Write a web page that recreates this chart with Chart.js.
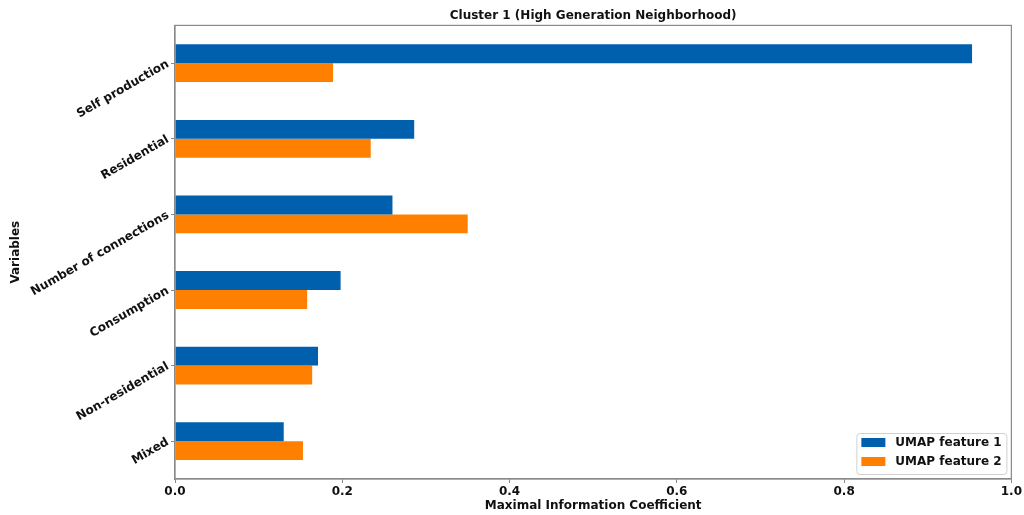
<!DOCTYPE html>
<html>
<head>
<meta charset="utf-8">
<script src="https://cdn.jsdelivr.net/npm/chart.js@4/dist/chart.umd.min.js"></script>
<style>
  html, body { margin: 0; padding: 0; background: #fff; }
  #wrap { width: 1024px; height: 515px; }
</style>
</head>
<body>
<div id="wrap"><canvas id="c" width="1024" height="515"></canvas></div>
<script>
const categories = ['Self production', 'Residential', 'Number of connections', 'Consumption', 'Non-residential', 'Mixed'];
const umapFeature1 = [0.953, 0.286, 0.260, 0.198, 0.171, 0.130];
const umapFeature2 = [0.189, 0.234, 0.350, 0.158, 0.164, 0.153];
const seriesNames = ['UMAP feature 1', 'UMAP feature 2'];
const xTicks = [0.0, 0.2, 0.4, 0.6, 0.8, 1.0];

const FONT = '"DejaVu Sans", sans-serif';
const BLUE = '#0060ad';
const ORANGE = '#ff8000';
const AXIS = '#8a8a8a';

const framePlugin = {
  id: 'frame',
  afterDatasetsDraw(chart) {
    const {ctx, chartArea: a} = chart;
    ctx.save();
    ctx.strokeStyle = AXIS;
    ctx.lineWidth = 1.2;
    ctx.strokeRect(a.left, a.top, a.right - a.left, a.bottom - a.top);
    ctx.restore();
  }
};

const legendPlugin = {
  id: 'innerLegend',
  afterDraw(chart) {
    const {ctx, chartArea: a} = chart;
    const w = 150, h = 41;
    const x = a.right - 5 - w, y = a.bottom - 5 - h;
    ctx.save();
    ctx.fillStyle = 'rgba(255,255,255,0.85)';
    ctx.strokeStyle = '#d0d0d0';
    ctx.lineWidth = 1;
    ctx.beginPath();
    ctx.roundRect(x + 0.5, y + 0.5, w, h, 3);
    ctx.fill();
    ctx.stroke();
    ctx.font = 'bold 12px ' + FONT;
    ctx.textBaseline = 'middle';
    ctx.textAlign = 'left';
    chart.data.datasets.forEach((ds, i) => {
      const ry = y + 5 + i * 19;
      ctx.fillStyle = ds.backgroundColor;
      ctx.fillRect(x + 5, ry, 24, 9);
      ctx.fillStyle = '#111';
      ctx.fillText(ds.label, x + 39, ry + 5);
    });
    ctx.restore();
  }
};

new Chart(document.getElementById('c'), {
  type: 'bar',
  data: {
    labels: categories,
    datasets: [
      { label: seriesNames[0], data: umapFeature1, backgroundColor: BLUE, borderWidth: 0,
        categoryPercentage: 0.5, barPercentage: 1.0 },
      { label: seriesNames[1], data: umapFeature2, backgroundColor: ORANGE, borderWidth: 0,
        categoryPercentage: 0.5, barPercentage: 1.0 }
    ]
  },
  options: {
    indexAxis: 'y',
    responsive: false,
    animation: false,
    layout: { padding: { left: 0, right: 11, top: 0, bottom: 0 } },
    plugins: {
      legend: { display: false },
      tooltip: { enabled: false },
      title: {
        display: true,
        fullSize: false,
        text: 'Cluster 1 (High Generation Neighborhood)',
        color: '#111',
        font: { family: FONT, size: 12, weight: 'bold' },
        padding: { top: 9, bottom: 2 }
      }
    },
    scales: {
      x: {
        type: 'linear',
        min: 0, max: 1,
        afterBuildTicks(scale) { scale.ticks = xTicks.map(v => ({ value: v })); },
        afterFit(scale) { scale.height = 36; },
        ticks: {
          color: '#111',
          padding: 2,
          font: { family: FONT, size: 12, weight: 'bold' },
          callback: v => Number(v).toFixed(1)
        },
        grid: { display: true, drawOnChartArea: false, drawTicks: true, tickLength: 4, color: AXIS },
        border: { display: true, color: AXIS, width: 1.2 },
        title: {
          display: true,
          text: 'Maximal Information Coefficient',
          color: '#111',
          font: { family: FONT, size: 12, weight: 'bold' },
          padding: { top: 0, bottom: 2 }
        }
      },
      y: {
        type: 'category',
        afterFit(scale) { scale.width = 175; },
        ticks: {
          color: '#111',
          padding: 3,
          minRotation: 30,
          maxRotation: 30,
          autoSkip: false,
          font: { family: FONT, size: 12, weight: 'bold' }
        },
        grid: { display: true, drawOnChartArea: false, drawTicks: true, tickLength: 4, color: AXIS, offset: false },
        border: { display: true, color: AXIS, width: 1.2 },
        title: {
          display: true,
          text: 'Variables',
          color: '#111',
          font: { family: FONT, size: 12, weight: 'bold' },
          padding: { top: 9, bottom: 0 }
        }
      }
    }
  },
  plugins: [framePlugin, legendPlugin]
});
</script>
</body>
</html>
